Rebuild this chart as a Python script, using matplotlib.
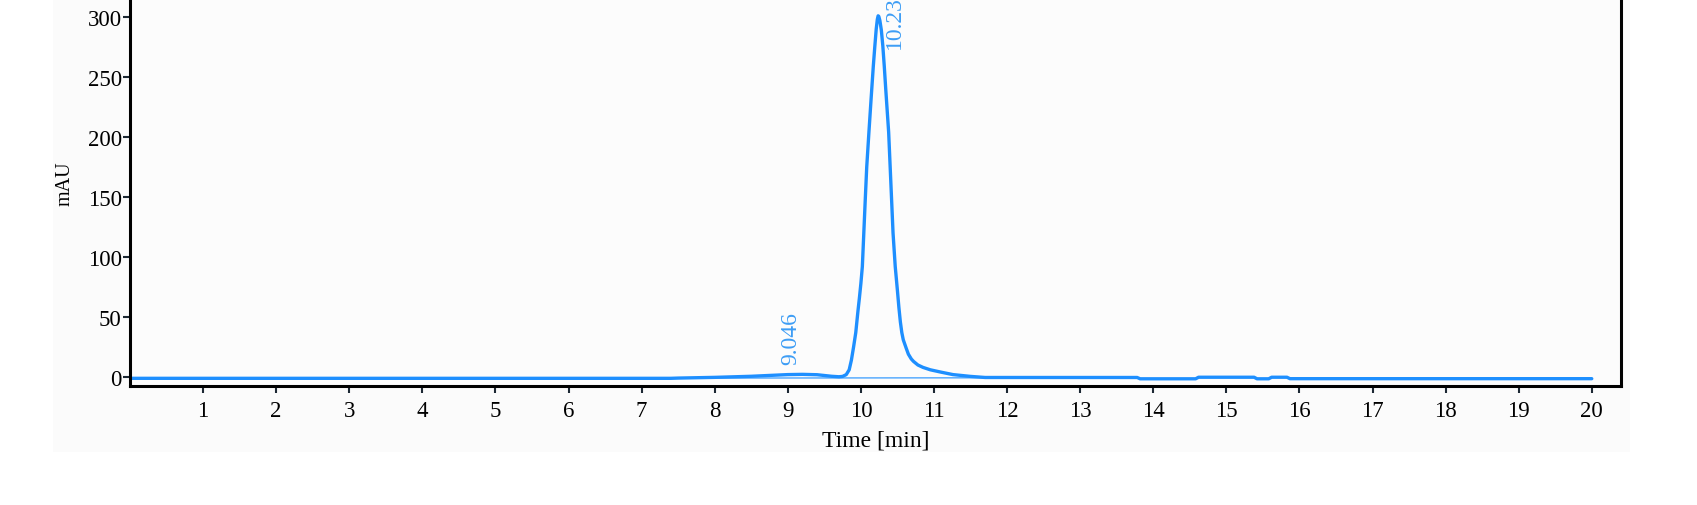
import matplotlib
matplotlib.use('Agg')
import matplotlib.pyplot as plt
from matplotlib.patches import Rectangle

# chromatogram (time in min, signal in mAU)
time_min = [0.0, 7.4, 7.5, 8.0, 8.5, 9.0, 9.2, 9.4, 9.6, 9.7, 9.75, 9.8,
            9.84, 9.87, 9.9, 9.93, 9.96, 9.98, 10.0, 10.02, 10.04, 10.06,
            10.08, 10.11, 10.14, 10.17, 10.19, 10.21, 10.225, 10.236, 10.245,
            10.26, 10.28, 10.3, 10.32, 10.34, 10.36, 10.38, 10.4, 10.42,
            10.44, 10.47, 10.5, 10.52, 10.54, 10.56, 10.58, 10.62, 10.65,
            10.69, 10.72, 10.78, 10.85, 10.95, 11.1, 11.26,
            11.5, 11.7, 13.78, 13.82, 14.58, 14.62, 15.38, 15.42, 15.58,
            15.62, 15.83, 15.87, 20.0]
signal_mau = [-1.1, -1.1, -0.9, -0.3, 0.6, 2.0, 2.2, 1.9, 0.6, 0.2, 0.5, 2.0,
              6.0, 14.0, 25.0, 37.0, 55.0, 66.0, 78.0, 92.0, 120.0, 148.0,
              175.0, 204.0, 232.0, 259.0, 275.0, 290.0, 298.0, 301.0, 300.5,
              297.0, 289.0, 276.0, 259.0, 240.0, 222.0, 204.0, 176.0, 148.0,
              120.0, 92.0, 72.0, 58.0, 46.0, 37.0, 31.0, 24.0, 19.0,
              15.0, 13.0, 10.0, 8.0, 6.0, 4.0, 2.0,
              0.5, -0.4, -0.4, -1.5, -1.5, -0.2, -0.2, -1.5, -1.5,
              -0.2, -0.2, -1.4, -1.4]

# integration baseline
base_time = [7.4, 13.8]
base_mau = [-0.9, -0.6]

# peak labels
peak_rt = [9.046, 10.233]
peak_height = [2.2, 301.0]
peak_text = ['9.046', '10.233']

x_ticks = list(range(1, 21))
y_ticks = [0, 50, 100, 150, 200, 250, 300]

plt.rcParams['font.family'] = ['Liberation Serif', 'DejaVu Serif']

line_color = '#1e8fff'
text_blue = '#3d9df5'

fig = plt.figure(figsize=(16.97, 5.06), dpi=100, facecolor='white')
# light grey plotting area behind everything
fig.patches.append(Rectangle((53 / 1697, 53 / 506), 1577 / 1697, 453 / 506,
                             transform=fig.transFigure, facecolor='#fbfbfb',
                             edgecolor='none', zorder=-10))

ax = fig.add_axes([130 / 1697, 119 / 506, 1491 / 1697, 393 / 506])
ax.set_zorder(1)
ax.set_facecolor('#fcfcfc')

ax.plot(base_time, base_mau, color=line_color, lw=0.8)
ax.plot(time_min, signal_mau, color=line_color, lw=2.4,
        solid_joinstyle='round', solid_capstyle='round')

# label offsets in points, the software places them differently per peak
offsets = [(0, 7.5), (12, -23)]
for rt, h, txt, off in zip(peak_rt, peak_height, peak_text, offsets):
    ax.annotate(txt, xy=(rt, h), xytext=off, textcoords='offset points',
                rotation=90, ha='center', va='bottom', color=text_blue,
                fontsize=17, annotation_clip=False)

ax.set_xlim(0, 20.4)
ax.set_ylim(-7.5, 320)
ax.set_xticks(x_ticks)
ax.set_yticks(y_ticks)
ax.tick_params(axis='both', direction='out', length=5, width=1.5,
               color='#1c2833', labelsize=16.5, labelcolor='black')
ax.tick_params(axis='x', pad=5)
ax.tick_params(axis='y', pad=1)

for s in ax.spines.values():
    s.set_linewidth(2.2)
    s.set_color('black')

ax.set_xlabel('Time [min]', fontsize=17, labelpad=6)
ax.set_ylabel('mAU', fontsize=14.5)
ax.yaxis.set_label_coords(-0.037, 0.517)

fig.savefig('out.png', dpi=100, facecolor=fig.get_facecolor())
